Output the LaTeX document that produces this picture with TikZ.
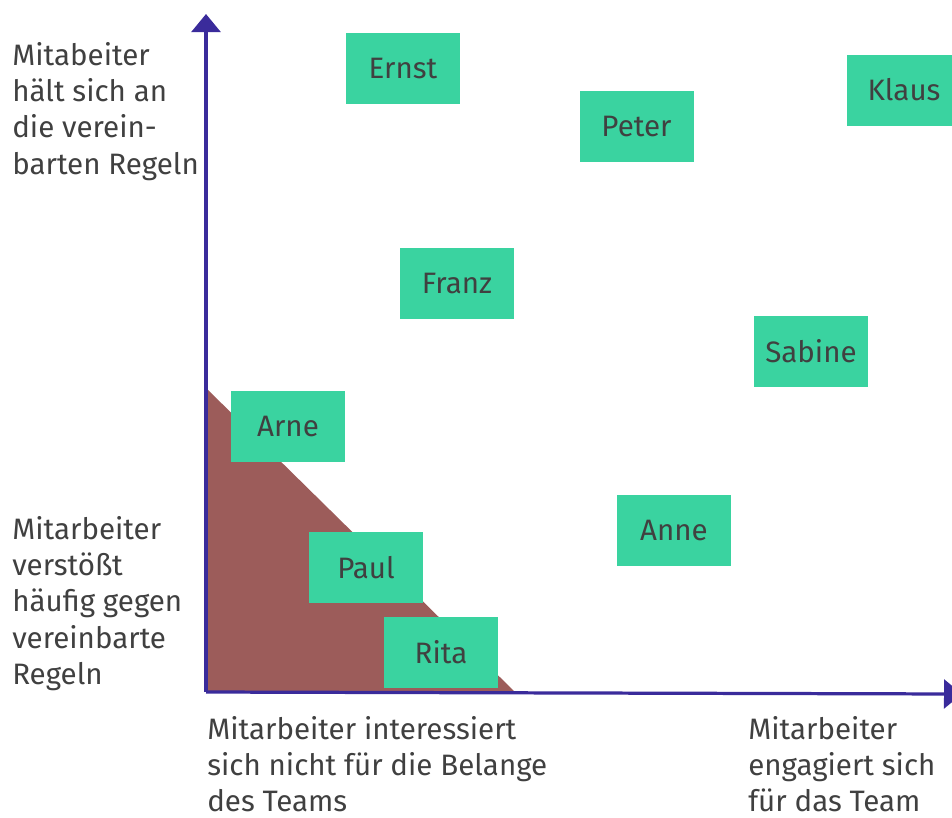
\documentclass[tikz,border=0pt]{standalone}
\usepackage{fontspec}
\setmainfont{Fira Sans}
\usepackage{xcolor}
\usetikzlibrary{arrows.meta}

\definecolor{axisblue}{HTML}{3A2B9B}
\definecolor{boxgreen}{HTML}{3AD3A0}
\definecolor{zonebrown}{HTML}{9C5C5A}
\definecolor{textgray}{HTML}{404040}

\begin{document}
\begin{tikzpicture}[
		x=0.025cm, y=-0.025cm,
		every node/.style={text=textgray, font=\fontsize{21}{25.8}\selectfont},
		person box/.style={
			rectangle, fill=boxgreen, inner sep=0pt,
			minimum width=114*0.025cm, minimum height=71*0.025cm
		},
		axis label/.style={
			align=left, anchor=north west, inner sep=0pt
		},
		axis/.style={
			draw=axisblue, line width=2.3pt,
			-{Triangle[length=0.45cm, width=0.72cm]}
		},
	]
		\clip (0,0) rectangle (952,817);

		\coordinate (origin) at (206,692);
		\coordinate (ytop) at (206,14);
		\coordinate (xend) at (962,694);

		% corner zone of the weak players
		\coordinate (zonetop) at (206,388);
		\coordinate (zoneright) at (515,692);
		\fill[zonebrown] (zonetop) -- (zoneright) -- (origin) -- cycle;

		\node[person box] (ernst) at (403,68.5) {Ernst};
		\node[person box] (peter) at (636.5,126.5) {Peter};
		\node[person box] (klaus) at (904,90) {Klaus};
		\node[person box] (franz) at (457,283.5) {Franz};
		\node[person box] (sabine) at (811,351.5) {Sabine};
		\node[person box] (arne) at (288,426.5) {Arne};
		\node[person box] (anne) at (674,530.5) {Anne};
		\node[person box] (paul) at (366,567.5) {Paul};
		\node[person box] (rita) at (441,652.5) {Rita};

		\draw[axis] (origin) -- (ytop);
		\draw[axis] (origin) -- (xend);

		\node[axis label] (rulestop) at (12,42) {Mitabeiter\\hält sich an\\die verein-\\barten Regeln};
		\node[axis label] (rulesbottom) at (12,516) {Mitarbeiter\\verstößt\\häufig gegen\\vereinbarte\\Regeln};
		\node[axis label] (teamleft) at (207,716) {Mitarbeiter interessiert\\sich nicht für die Belange\\des Teams};
		\node[axis label] (teamright) at (748,716) {Mitarbeiter\\engagiert sich\\für das Team};
	\end{tikzpicture}
\end{document}
